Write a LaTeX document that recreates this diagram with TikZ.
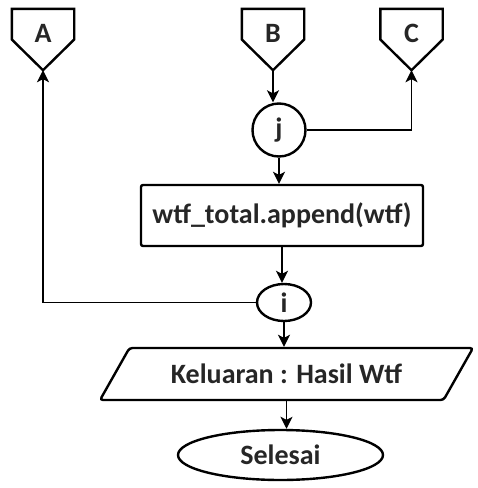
\documentclass[tikz,border=0pt]{standalone}
\usepackage{fontspec}
\setmainfont{Carlito}
\usepackage{tikz}
\usetikzlibrary{shapes.geometric,arrows.meta}

\begin{document}
\begin{tikzpicture}[x=1pt, y=-1pt,
    font=\fontsize{28pt}{33pt}\selectfont\bfseries, text=black!85,
    offpage/.style={minimum width=62pt, minimum height=61pt, inner sep=0pt,
      text height=19pt, text depth=13pt},
    konektor/.style={draw, line width=2.4pt, circle, minimum size=53pt, inner sep=0pt},
    proses/.style={draw, line width=2.4pt, rounded corners=2pt, minimum width=282pt,
      minimum height=61pt, inner sep=0pt},
    io/.style={draw, line width=2.4pt, trapezium, trapezium left angle=34,
      trapezium right angle=146, trapezium stretches body, rounded corners=3pt,
      minimum width=373pt, minimum height=52pt, inner sep=0pt},
    terminator/.style={draw, line width=2.4pt, ellipse, inner sep=0pt},
    flow/.style={line width=1.6pt, -{Stealth[length=12pt, width=12pt, inset=3pt]}}]
    \useasboundingbox (0,0) rectangle (478,488);

    \node[offpage] (A) at (43,39.5) {A};
    \node[offpage] (B) at (273,39.5) {B};
    \node[offpage] (C) at (411.5,39.5) {C};
    \foreach \n in {A,B,C}
      \draw[line width=2.4pt] (\n.north west) -- (\n.north east) -- (\n.east)
        -- (\n.south) -- (\n.west) -- cycle;
    \node[konektor] (j) at (279,130) {j};
    \node[proses] (append) at (282,215.5) {wtf\_total.append(wtf)};
    \node[terminator, minimum width=54pt, minimum height=37pt] (i) at (284,302.5) {i};
    \node[io] (keluaran) at (286.5,374) {Keluaran : Hasil Wtf};
    \node[terminator, minimum width=205pt, minimum height=50pt] (selesai) at (280.5,455) {Selesai};

    \path[flow]
      (B.south) edge (B.south |- j.north)
      (j.east) edge[to path={-| (\tikztotarget)}] (C.south)
      (j.south) edge (j.south |- append.north)
      (append.south) edge (append.south |- i.north)
      (i.west) edge[to path={-| (\tikztotarget)}] (A.south)
      (i.south) edge (i.south |- keluaran.north)
      (keluaran.south) edge (keluaran.south |- selesai.north);
\end{tikzpicture}
\end{document}
